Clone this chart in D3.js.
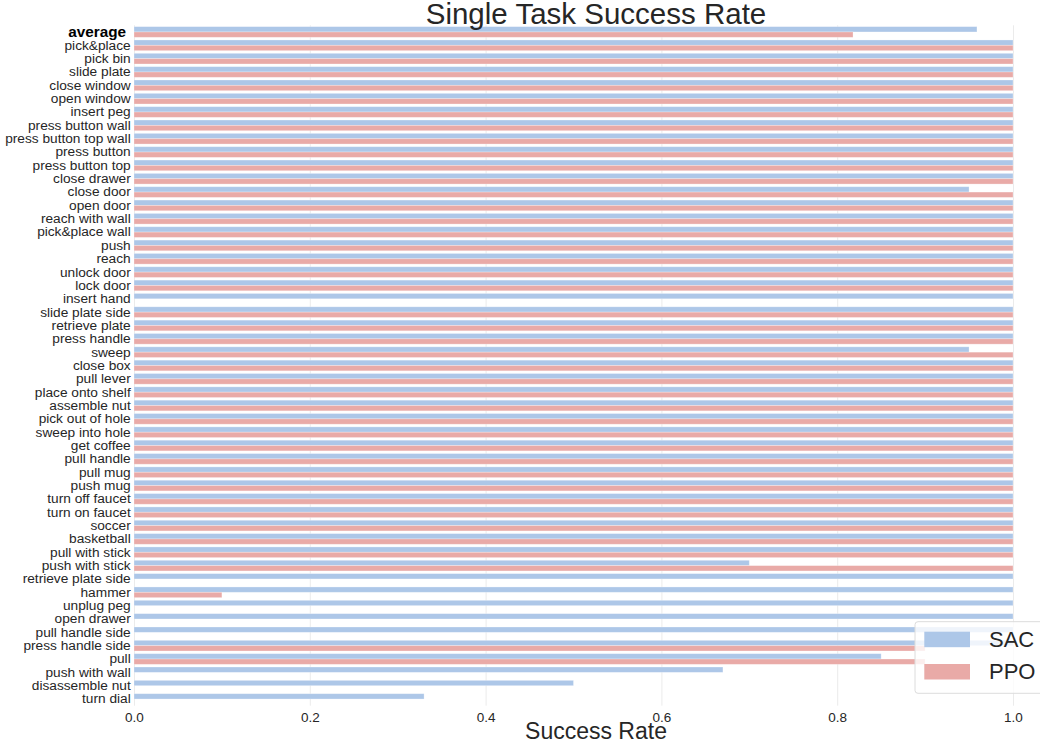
<!DOCTYPE html>
<html>
<head>
<meta charset="utf-8">
<script src="https://cdn.jsdelivr.net/npm/d3@7"></script>
<style>
  html, body { margin: 0; padding: 0; background: #ffffff; }
  svg { display: block; font-family: "Liberation Sans", Arial, Helvetica, sans-serif; }
</style>
</head>
<body>
<svg id="chart" width="1040" height="749"></svg>
<script>
// ---- data ----
const tasks = [
  "average", "pick&place", "pick bin", "slide plate", "close window", "open window",
  "insert peg", "press button wall", "press button top wall", "press button",
  "press button top", "close drawer", "close door", "open door", "reach with wall",
  "pick&place wall", "push", "reach", "unlock door", "lock door", "insert hand",
  "slide plate side", "retrieve plate", "press handle", "sweep", "close box",
  "pull lever", "place onto shelf", "assemble nut", "pick out of hole",
  "sweep into hole", "get coffee", "pull handle", "pull mug", "push mug",
  "turn off faucet", "turn on faucet", "soccer", "basketball", "pull with stick",
  "push with stick", "retrieve plate side", "hammer", "unplug peg", "open drawer",
  "pull handle side", "press handle side", "pull", "push with wall",
  "disassemble nut", "turn dial"
];
const sacValues = [
  0.959, 1, 1, 1, 1, 1,
  1, 1, 1, 1,
  1, 1, 0.95, 1, 1,
  1, 1, 1, 1, 1, 1,
  1, 1, 1, 0.95, 1,
  1, 1, 1, 1,
  1, 1, 1, 1, 1,
  1, 1, 1, 1, 1,
  0.70, 1, 1, 1, 1,
  1, 1, 0.85, 0.67,
  0.50, 0.33
];
const ppoValues = [
  0.818, 1, 1, 1, 1, 1,
  1, 1, 1, 1,
  1, 1, 1, 1, 1,
  1, 1, 1, 1, 1, 0,
  1, 1, 1, 1, 1,
  1, 1, 1, 1,
  1, 1, 1, 1, 1,
  1, 1, 1, 1, 1,
  1, 0, 0.1, 0, 0,
  0, 0.9, 0.9, 0,
  0, 0
];
const seriesNames = ["SAC", "PPO"];
const seriesColors = ["#adc7e8", "#e9aaa7"];
const xTicks = [0, 0.2, 0.4, 0.6, 0.8, 1.0];
const titleText = "Single Task Success Rate";
const xLabelText = "Success Rate";

// ---- layout ----
const svg = d3.select("#chart");
const plotLeft = 134, plotRight = 1013, plotTop = 25.3, plotBottom = 705.7;

const x = d3.scaleLinear().domain([0, 1]).range([plotLeft, plotRight]);
const y = d3.scaleBand().domain(tasks).range([plotTop, plotBottom])
  .paddingInner(0.2).paddingOuter(0.1);
const ySub = d3.scaleBand().domain(seriesNames).range([0, y.bandwidth()]);
const color = d3.scaleOrdinal().domain(seriesNames).range(seriesColors);

// grid
const grid = svg.append("g")
  .attr("transform", `translate(0,${plotBottom})`)
  .call(d3.axisBottom(x).tickValues(xTicks).tickSize(-(plotBottom - plotTop)).tickFormat(""));
grid.select(".domain").remove();
grid.selectAll(".tick line").attr("stroke", "#ebebeb").attr("stroke-width", 1);

// bars
const rows = tasks.map((t, i) => ({ task: t, values: [
  { key: "SAC", value: sacValues[i] },
  { key: "PPO", value: ppoValues[i] }
]}));

const groups = svg.append("g").selectAll("g")
  .data(rows).join("g")
  .attr("transform", d => `translate(0,${y(d.task)})`);

groups.selectAll("rect")
  .data(d => d.values.filter(v => v.value > 0))
  .join("rect")
  .attr("x", x(0))
  .attr("y", d => ySub(d.key))
  .attr("width", d => x(d.value) - x(0))
  .attr("height", ySub.bandwidth())
  .attr("fill", d => color(d.key))
  .attr("stroke", "#ffffff")
  .attr("stroke-opacity", 0.35)
  .attr("stroke-width", 0.8);

// x axis
const xAxis = svg.append("g")
  .attr("transform", `translate(0,${plotBottom})`)
  .call(d3.axisBottom(x).tickValues(xTicks).tickSize(0).tickPadding(7).tickFormat(d3.format(".1f")));
xAxis.select(".domain").remove();
xAxis.selectAll("text")
  .attr("font-size", "13.5px")
  .attr("fill", "#262626")
  .style("font-family", '"Liberation Sans", Arial, sans-serif');

// y axis
const yAxis = svg.append("g")
  .attr("transform", `translate(${plotLeft},0)`)
  .call(d3.axisLeft(y).tickSize(0).tickPadding(3.3));
yAxis.select(".domain").remove();
yAxis.selectAll("text")
  .attr("font-size", "13.7px")
  .attr("fill", "#262626")
  .style("font-family", '"Liberation Sans", Arial, sans-serif');
yAxis.selectAll(".tick").filter(d => d === "average").select("text")
  .attr("font-size", "15.3px")
  .attr("font-weight", "bold")
  .attr("fill", "#000000")
  .attr("x", -8);

// title
svg.append("text")
  .attr("x", 596).attr("y", 24)
  .attr("text-anchor", "middle")
  .attr("font-size", "29.5px")
  .attr("fill", "#262626")
  .text(titleText);

// x label
svg.append("text")
  .attr("x", 596).attr("y", 738.5)
  .attr("text-anchor", "middle")
  .attr("font-size", "23px")
  .attr("fill", "#262626")
  .text(xLabelText);

// legend
const legend = svg.append("g");
legend.append("rect")
  .attr("x", 915).attr("y", 621.7)
  .attr("width", 140).attr("height", 71.6)
  .attr("rx", 3).attr("ry", 3)
  .attr("fill", "#ffffff").attr("fill-opacity", 0.8)
  .attr("stroke", "#dcdcdc").attr("stroke-width", 1);
const legendRows = [631.7, 664];
seriesNames.forEach((name, i) => {
  legend.append("rect")
    .attr("x", 924.3).attr("y", legendRows[i])
    .attr("width", 45.7).attr("height", 15.5)
    .attr("fill", color(name));
  legend.append("text")
    .attr("x", 989).attr("y", legendRows[i] + 15.3)
    .attr("font-size", "22px")
    .attr("fill", "#262626")
    .text(name);
});
</script>
</body>
</html>
